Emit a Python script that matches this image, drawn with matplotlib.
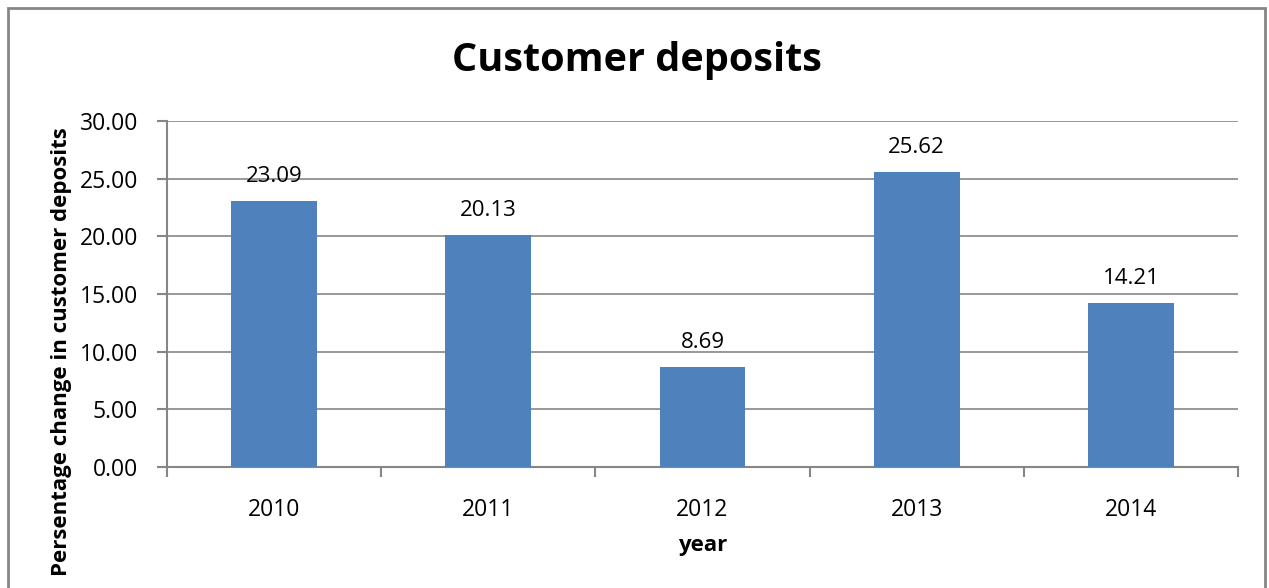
import matplotlib.pyplot as plt
from matplotlib.patches import Rectangle

years = ['2010', '2011', '2012', '2013', '2014']
deposits = [23.09, 20.13, 8.69, 25.62, 14.21]
y_ticks = [0, 5, 10, 15, 20, 25, 30]

plt.rcParams['font.family'] = ['Open Sans', 'DejaVu Sans']

fig = plt.figure(figsize=(12.69, 5.88), dpi=100)
ax = fig.add_axes([167 / 1269, 1 - 467 / 588, (1238 - 167) / 1269, (467 - 121) / 588])

x = list(range(len(years)))
bars = ax.bar(x, deposits, width=0.4, color='#4F81BD', zorder=3)
for xi, v in zip(x, deposits):
    ax.text(xi, v + 1.2, f'{v:.2f}', ha='center', va='bottom', fontsize=16, color='black')

ax.set_xlim(-0.5, len(years) - 0.5)
ax.set_ylim(0, 30)
ax.set_yticks(y_ticks)
ax.set_yticklabels([f'{t:.2f}' for t in y_ticks], fontsize=16.5)
ax.set_xticks(x)
ax.set_xticklabels(years, fontsize=16.5)
ax.tick_params(axis='x', length=0, pad=22)
ax.set_xticks([i - 0.5 for i in range(len(years) + 1)], minor=True)
ax.tick_params(axis='x', which='minor', length=7, color='#868686', width=1.5)
ax.tick_params(axis='y', length=7, color='#868686', width=1.5, pad=14)
ax.grid(axis='y', color='#868686', linewidth=1.2, zorder=0)

for s in ['top', 'right']:
    ax.spines[s].set_visible(False)
for s in ['left', 'bottom']:
    ax.spines[s].set_color('#868686')
    ax.spines[s].set_linewidth(1.5)

fig.text(637 / 1269, 1 - 60 / 588, 'Customer deposits', ha='center', va='center',
         fontsize=28.5, fontweight='bold')
fig.text(703 / 1269, 1 - 545 / 588, 'year', ha='center', va='center',
         fontsize=16, fontweight='bold')
fig.text(62 / 1269, 1 - 352 / 588, 'Persentage change in customer deposits', rotation=90,
         ha='center', va='center', fontsize=16, fontweight='bold')

fig.patches.append(Rectangle((8 / 1269, -0.01), (1265 - 8) / 1269, 1 - 8 / 588 + 0.01,
                             transform=fig.transFigure, fill=False, edgecolor='#868686', linewidth=2))

fig.savefig('out.png', dpi=100)
